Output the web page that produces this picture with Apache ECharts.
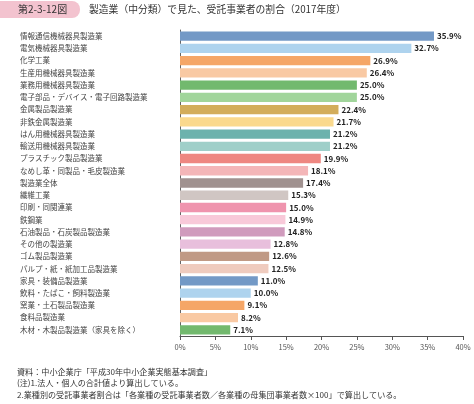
<!DOCTYPE html>
<html>
<head>
<meta charset="utf-8">
<script src="https://cdn.jsdelivr.net/npm/echarts@6/dist/echarts.min.js"></script>
<style>
  html, body { margin: 0; padding: 0; background: #fff; }
  #chart { width: 474px; height: 404px; }
</style>
</head>
<body>
<div id="chart"></div>
<script>
// categories, top to bottom
var categories = [
  '情報通信機械器具製造業', '電気機械器具製造業', '化学工業', '生産用機械器具製造業',
  '業務用機械器具製造業', '電子部品・デバイス・電子回路製造業', '金属製品製造業', '非鉄金属製造業',
  'はん用機械器具製造業', '輸送用機械器具製造業', 'プラスチック製品製造業', 'なめし革・同製品・毛皮製造業',
  '製造業全体', '繊維工業', '印刷・同関連業', '鉄鋼業',
  '石油製品・石炭製品製造業', 'その他の製造業', 'ゴム製品製造業', 'パルプ・紙・紙加工品製造業',
  '家具・装備品製造業', '飲料・たばこ・飼料製造業', '窯業・土石製品製造業', '食料品製造業',
  '木材・木製品製造業（家具を除く）'
];
var values = [
  35.9, 32.7, 26.9, 26.4, 25.0, 25.0, 22.4, 21.7, 21.2, 21.2, 19.9, 18.1,
  17.4, 15.3, 15.0, 14.9, 14.8, 12.8, 12.6, 12.5, 11.0, 10.0, 9.1, 8.2, 7.1
];
var barColors = [
  '#7399c6', '#aed3ee', '#f5a667', '#f9c9a3', '#72b96e', '#a1d59b', '#d3ad5b', '#fad98d',
  '#6cb2ad', '#9fcfc9', '#ee8781', '#f4b6b8', '#a0918f', '#d0c6c3', '#ef94ae', '#f8c9d9',
  '#d09bbd', '#e8bfdc', '#c09a85', '#efcbbe', '#7399c6', '#aed3ee', '#f5a667', '#f9c9a3',
  '#72b96e'
];
var tickLabels = ['0%', '5%', '10%', '15%', '20%', '25%', '30%', '35%', '40%'];
var notes = [
  '資料：中小企業庁「平成30年中小企業実態基本調査」',
  '(注)1.法人・個人の合計値より算出している。',
  '2.業種別の受託事業者割合は「各業種の受託事業者数／各業種の母集団事業者数×100」で算出している。'
];

var chart = echarts.init(document.getElementById('chart'));
var font = '"Noto Sans CJK JP", sans-serif';

var option = {
  animation: false,
  textStyle: { fontFamily: font },
  grid: { left: 180, right: 11, top: 30, bottom: 68 },
  xAxis: {
    type: 'value',
    min: 0,
    max: 40,
    interval: 5,
    axisLine: { show: true, lineStyle: { color: '#555', width: 1 } },
    axisTick: { show: true, length: 4, lineStyle: { color: '#555' } },
    splitLine: { show: false },
    axisLabel: {
      color: '#555', fontSize: 7.5, margin: 7,
      formatter: function (v) { return tickLabels[v / 5]; }
    }
  },
  yAxis: {
    type: 'category',
    inverse: true,
    data: categories,
    axisLine: { show: true, lineStyle: { color: '#666', width: 1 } },
    axisTick: { show: false },
    axisLabel: { color: '#444', fontSize: 7.5, align: 'left', margin: 160 }
  },
  series: [{
    type: 'bar',
    data: values.map(function (v, i) {
      return { value: v, itemStyle: { color: barColors[i] } };
    }),
    barCategoryGap: '24%',
    label: {
      show: true,
      position: 'right',
      distance: 3,
      color: '#222',
      fontSize: 8,
      fontWeight: 'bold',
      formatter: function (p) { return p.value.toFixed(1) + '%'; }
    }
  }],
  graphic: [
    {
      type: 'rect', left: -10, top: 1,
      shape: { width: 90, height: 17, r: 8 },
      style: { fill: '#f3c3cf' }
    },
    {
      type: 'text', left: 18, top: 4,
      style: { text: '第2-3-12図', fill: '#333', fontSize: 10, fontFamily: font }
    },
    {
      type: 'text', left: 89, top: 4,
      style: { text: '製造業（中分類）で見た、受託事業者の割合（2017年度）', fill: '#333', fontSize: 9.8, fontFamily: font }
    },
    {
      type: 'text', left: 17, top: 368,
      style: { text: notes[0], fill: '#333', fontSize: 8.1, fontFamily: font }
    },
    {
      type: 'text', left: 17, top: 379,
      style: { text: notes[1], fill: '#333', fontSize: 8.1, fontFamily: font }
    },
    {
      type: 'text', left: 17, top: 391,
      style: { text: notes[2], fill: '#333', fontSize: 8.1, fontFamily: font }
    }
  ]
};

chart.setOption(option);
</script>
</body>
</html>
